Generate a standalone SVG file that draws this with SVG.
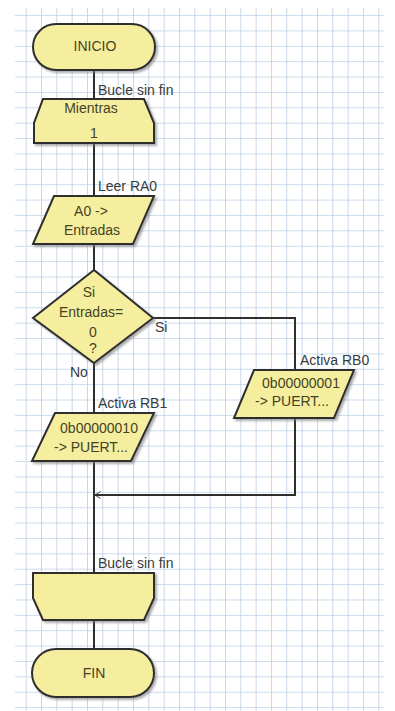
<svg xmlns="http://www.w3.org/2000/svg" width="395" height="711" viewBox="0 0 395 711">
  <defs>
    <pattern id="grid" patternUnits="userSpaceOnUse" x="11.33" y="0.62" width="15.33" height="15.38">
      <path d="M15.33 0 V15.38 M0 15.38 H15.33" fill="none" stroke="#bccfe8" stroke-width="1.6"/>
    </pattern>
    <filter id="sh" x="-10%" y="-10%" width="130%" height="130%">
      <feDropShadow dx="2" dy="2" stdDeviation="1" flood-color="#777" flood-opacity="0.6"/>
    </filter>
    <marker id="open" viewBox="0 0 10 10" refX="9" refY="5" markerWidth="7" markerHeight="11" markerUnits="userSpaceOnUse" orient="auto">
      <path d="M1 0 L9 5 L1 10" fill="none" stroke="#333" stroke-width="1.3"/>
    </marker>
  </defs>
  <style>
    .shape { fill: #f5ee9f; stroke: #2e2e2e; stroke-width: 2; filter: url(#sh); }
    .conn { fill: none; stroke: #2e2e2e; stroke-width: 2; }
    .t { font-family: "Liberation Sans", Arial, sans-serif; font-size: 14px; fill: #45431f; text-anchor: middle; }
    .lbl { font-family: "Liberation Sans", Arial, sans-serif; font-size: 14px; fill: #3a3a3a; }
  </style>
  <rect x="0" y="0" width="395" height="711" fill="#ffffff"/>
  <rect x="15" y="8" width="369" height="703" fill="url(#grid)"/>

  <g id="connectors">
    <path class="conn" d="M94 70 V99"/>
    <path class="conn" d="M94 143 V196"/>
    <path class="conn" d="M94 244 V270"/>
    <path class="conn" d="M153 318 H295 V370"/>
    <path class="conn" d="M295 418 V495 H95" marker-end="url(#open)"/>
    <path class="conn" d="M94 363 V413"/>
    <path class="conn" d="M94 461 V573"/>
    <path class="conn" d="M94 620 V649"/>
    <text class="lbl" x="98" y="95">Bucle sin fin</text>
    <text class="lbl" x="98" y="191">Leer RA0</text>
    <text class="lbl" x="155" y="332">Si</text>
    <text class="lbl" x="70" y="377">No</text>
    <text class="lbl" x="300" y="365">Activa RB0</text>
    <text class="lbl" x="98" y="408">Activa RB1</text>
    <text class="lbl" x="98" y="568">Bucle sin fin</text>
  </g>

  <g id="inicio">
    <rect class="shape" x="33" y="24" width="122" height="46" rx="23" ry="23"/>
    <text class="t" x="95" y="51">INICIO</text>
  </g>

  <g id="mientras">
    <path class="shape" d="M43 99 H144 L154 123 V143 H34 V123 Z"/>
    <text class="t" x="91" y="113">Mientras</text>
    <text class="t" x="94" y="138">1</text>
  </g>

  <g id="leer">
    <path class="shape" d="M54 196 H154 L133 244 H33 Z"/>
    <text class="t" x="91" y="216">A0 -&gt;</text>
    <text class="t" x="92" y="235">Entradas</text>
  </g>

  <g id="decision">
    <path class="shape" d="M94 270 L153 318 L94 363 L33 318 Z"/>
    <text class="t" x="89" y="297">Si</text>
    <text class="t" x="91" y="317">Entradas=</text>
    <text class="t" x="93" y="337">0</text>
    <text class="t" x="93" y="353">?</text>
  </g>

  <g id="rb0">
    <path class="shape" d="M254 370 H354 L334 418 H234 Z"/>
    <text class="t" x="301" y="388">0b00000001</text>
    <text class="t" x="292" y="406">-&gt; PUERT...</text>
  </g>

  <g id="rb1">
    <path class="shape" d="M55 413 H154 L131 461 H32 Z"/>
    <text class="t" x="99" y="433">0b00000010</text>
    <text class="t" x="91" y="452">-&gt; PUERT...</text>
  </g>

  <g id="fin-bucle">
    <path class="shape" d="M33 573 H154 V598 L144 620 H43 L33 598 Z"/>
  </g>

  <g id="fin">
    <rect class="shape" x="32" y="649" width="122" height="48" rx="24" ry="24"/>
    <text class="t" x="94" y="678">FIN</text>
  </g>
</svg>
